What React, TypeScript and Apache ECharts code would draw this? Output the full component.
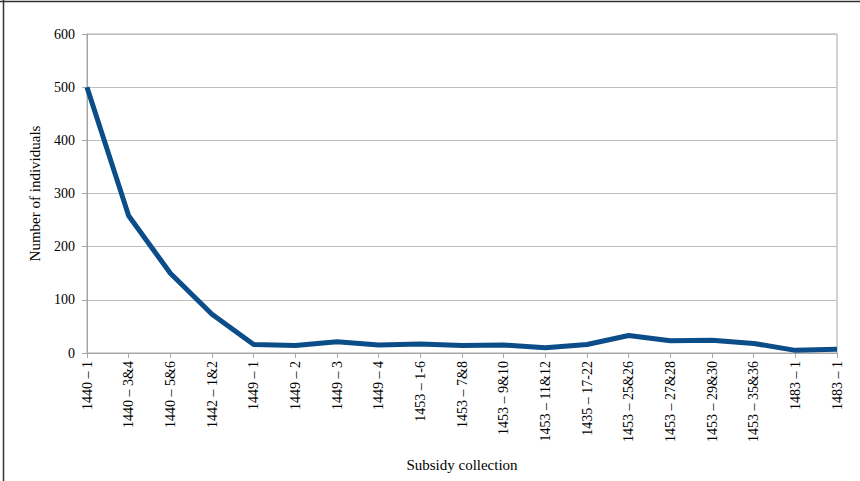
import React, { useEffect, useRef } from "react";
import * as echarts from "echarts";

const categories = [
  "1440 – 1",
  "1440 – 3&4",
  "1440 – 5&6",
  "1442 – 1&2",
  "1449 – 1",
  "1449 – 2",
  "1449 – 3",
  "1449 – 4",
  "1453 – 1-6",
  "1453 – 7&8",
  "1453 – 9&10",
  "1453 – 11&12",
  "1435 – 17-22",
  "1453 – 25&26",
  "1453 – 27&28",
  "1453 – 29&30",
  "1453 – 35&36",
  "1483 – 1",
  "1483 – 1",
];
const individuals = [500, 258, 150, 73, 16, 14, 21, 15, 17, 14, 15, 10, 16, 33, 23, 24, 18, 5, 7];

const FONT = "Liberation Serif";

export default function App() {
  const ref = useRef<HTMLDivElement>(null);
  useEffect(() => {
    if (!ref.current) return;
    const chart = echarts.init(ref.current, null, { renderer: "svg" });
    chart.setOption({
      animation: false,
      backgroundColor: "#ffffff",
      textStyle: { fontFamily: FONT },
      grid: {
        left: 87,
        right: 23,
        top: 34,
        bottom: 128,
        show: true,
        borderColor: "#a6a6a6",
        borderWidth: 1,
      },
      graphic: [
        { type: "line", shape: { x1: 0, y1: 1.5, x2: 860, y2: 1.5 }, style: { stroke: "#333", lineWidth: 1.5 } },
        { type: "line", shape: { x1: 3.5, y1: 0, x2: 3.5, y2: 481 }, style: { stroke: "#333", lineWidth: 1.5 } },
      ],
      xAxis: {
        type: "category",
        data: categories,
        boundaryGap: false,
        name: "Subsidy collection",
        nameLocation: "middle",
        nameGap: 104,
        nameTextStyle: { fontFamily: FONT, fontSize: 15, color: "#000" },
        axisLine: { lineStyle: { color: "#a6a6a6" } },
        axisTick: { show: true, length: 5, lineStyle: { color: "#a6a6a6" } },
        axisLabel: {
          rotate: 90,
          interval: 0,
          margin: 8,
          fontFamily: FONT,
          fontSize: 14,
          color: "#000",
        },
      },
      yAxis: {
        type: "value",
        min: 0,
        max: 600,
        interval: 100,
        name: "Number of individuals",
        nameLocation: "middle",
        nameGap: 45,
        nameTextStyle: { fontFamily: FONT, fontSize: 15, color: "#000" },
        axisLine: { show: true, lineStyle: { color: "#a6a6a6" } },
        axisTick: { show: true, length: 5, lineStyle: { color: "#a6a6a6" } },
        splitLine: { lineStyle: { color: "#bfbfbf" } },
        axisLabel: { fontFamily: FONT, fontSize: 14, color: "#000", margin: 12 },
      },
      series: [
        {
          type: "line",
          data: individuals,
          symbol: "none",
          lineStyle: { color: "#0b4d88", width: 5, join: "round" },
        },
      ],
    });
    return () => chart.dispose();
  }, []);
  return (
    <div
      ref={ref}
      style={{ position: "fixed", left: 0, top: 0, width: 860, height: 481 }}
    />
  );
}
